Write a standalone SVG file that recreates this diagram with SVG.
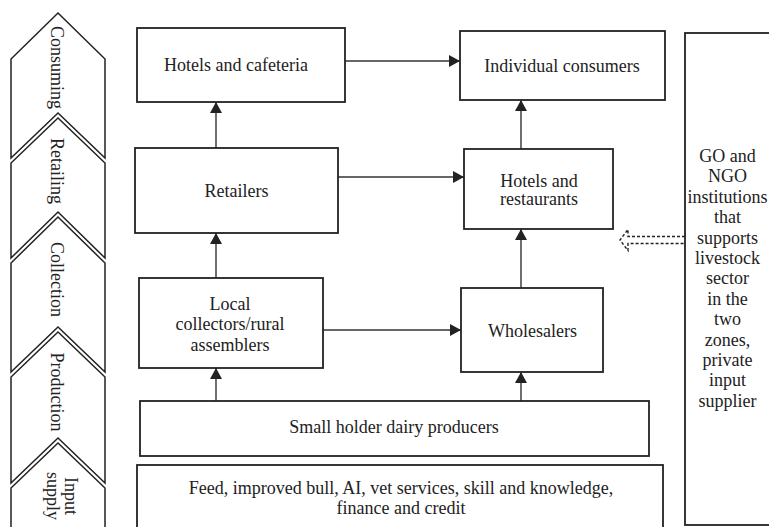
<svg xmlns="http://www.w3.org/2000/svg" width="769" height="527" viewBox="0 0 769 527">
<style>
  .box{fill:#fff;stroke:#222;stroke-width:1.8}
  .chev{fill:#fff;stroke:#222;stroke-width:1.5;stroke-linejoin:miter}
  .t{font-family:"Liberation Serif","Times New Roman",serif;font-size:18px;fill:#222;text-anchor:middle}
  .con{fill:none;stroke:#333;stroke-width:1.4}
  .dash{fill:none;stroke:#222;stroke-width:1.4;stroke-dasharray:3,2}
</style>
<defs>
  <marker id="ah" markerUnits="userSpaceOnUse" markerWidth="12" markerHeight="12" refX="11" refY="6" orient="auto">
    <path d="M0,0 L11,6 L0,12 Z" fill="#222"/>
  </marker>
</defs>
<rect width="769" height="527" fill="#fff"/>

<g id="stages">
  <g id="stage-consuming">
    <path class="chev" d="M58,13 L105,59 L105,158 L58,113 L11,158 L11,59 Z"/>
    <text class="t" transform="translate(51,67.5) rotate(90)">Consuming</text>
  </g>
  <g id="stage-retailing">
    <path class="chev" d="M58,118 L105,163 L105,258 L58,212 L11,258 L11,163 Z"/>
    <text class="t" transform="translate(51,171) rotate(90)">Retailing</text>
  </g>
  <g id="stage-collection">
    <path class="chev" d="M58,217 L105,263 L105,372 L58,327 L11,372 L11,263 Z"/>
    <text class="t" transform="translate(51,279.5) rotate(90)">Collection</text>
  </g>
  <g id="stage-production">
    <path class="chev" d="M58,332 L105,377 L105,483 L58,438 L11,483 L11,377 Z"/>
    <text class="t" transform="translate(51,392) rotate(90)">Production</text>
  </g>
  <g id="stage-input">
    <path class="chev" d="M58,443 L105,488 L105,532 L11,532 L11,488 Z"/>
    <text class="t" transform="translate(65,496) rotate(90)">Input</text>
    <text class="t" transform="translate(47,496) rotate(90)">supply</text>
  </g>
</g>

<g id="connectors">
  <path class="con" d="M345,61 H460" marker-end="url(#ah)"/>
  <path class="con" d="M338,177 H464" marker-end="url(#ah)"/>
  <path class="con" d="M216,148 V102" marker-end="url(#ah)"/>
  <path class="con" d="M521,149 V100" marker-end="url(#ah)"/>
  <path class="con" d="M216,278 V233" marker-end="url(#ah)"/>
  <path class="con" d="M521,288 V229" marker-end="url(#ah)"/>
  <path class="con" d="M323,330 H461" marker-end="url(#ah)"/>
  <path class="con" d="M216,401 V368" marker-end="url(#ah)"/>
  <path class="con" d="M521,401 V372" marker-end="url(#ah)"/>
  <path class="dash" d="M685,236.5 H628 V229.5 L620,240 L628,250.5 V243.5 H685"/>
</g>

<g id="n-hotels-cafeteria">
  <rect class="box" x="137" y="28" width="208" height="74"/>
  <text class="t" x="236" y="70.5">Hotels and cafeteria</text>
</g>
<g id="n-individual-consumers">
  <rect class="box" x="460" y="31" width="205" height="69"/>
  <text class="t" x="562" y="72">Individual consumers</text>
</g>
<g id="n-retailers">
  <rect class="box" x="135" y="148" width="203" height="85"/>
  <text class="t" x="236.5" y="196.5">Retailers</text>
</g>
<g id="n-hotels-restaurants">
  <rect class="box" x="464" y="149" width="149" height="80"/>
  <text class="t" x="539" y="186.5">Hotels and</text>
  <text class="t" x="539" y="205">restaurants</text>
</g>
<g id="n-local-collectors">
  <rect class="box" x="139" y="278" width="184" height="90"/>
  <text class="t" x="230" y="309.5">Local</text>
  <text class="t" x="230" y="330">collectors/rural</text>
  <text class="t" x="230" y="350.5">assemblers</text>
</g>
<g id="n-wholesalers">
  <rect class="box" x="461" y="288" width="142" height="84"/>
  <text class="t" x="532.5" y="336.5">Wholesalers</text>
</g>
<g id="n-smallholder">
  <rect class="box" x="140" y="401" width="509" height="55"/>
  <text class="t" x="394" y="432.5">Small holder dairy producers</text>
</g>
<g id="n-inputs">
  <rect class="box" x="137" y="465" width="526" height="70"/>
  <text class="t" x="401" y="493.5">Feed, improved bull, AI, vet services, skill and knowledge,</text>
  <text class="t" x="401" y="513.5">finance and credit</text>
</g>
<g id="n-support">
  <rect class="box" x="685" y="33" width="95" height="492"/>
  <text class="t" x="727.5" y="162">GO and</text>
  <text class="t" x="727.5" y="182.4">NGO</text>
  <text class="t" x="727.5" y="202.8">institutions</text>
  <text class="t" x="727.5" y="223.2">that</text>
  <text class="t" x="727.5" y="243.6">supports</text>
  <text class="t" x="727.5" y="264">livestock</text>
  <text class="t" x="727.5" y="284.4">sector</text>
  <text class="t" x="727.5" y="304.8">in the</text>
  <text class="t" x="727.5" y="325.2">two</text>
  <text class="t" x="727.5" y="345.6">zones,</text>
  <text class="t" x="727.5" y="366">private</text>
  <text class="t" x="727.5" y="386.4">input</text>
  <text class="t" x="727.5" y="406.8">supplier</text>
</g>
</svg>
